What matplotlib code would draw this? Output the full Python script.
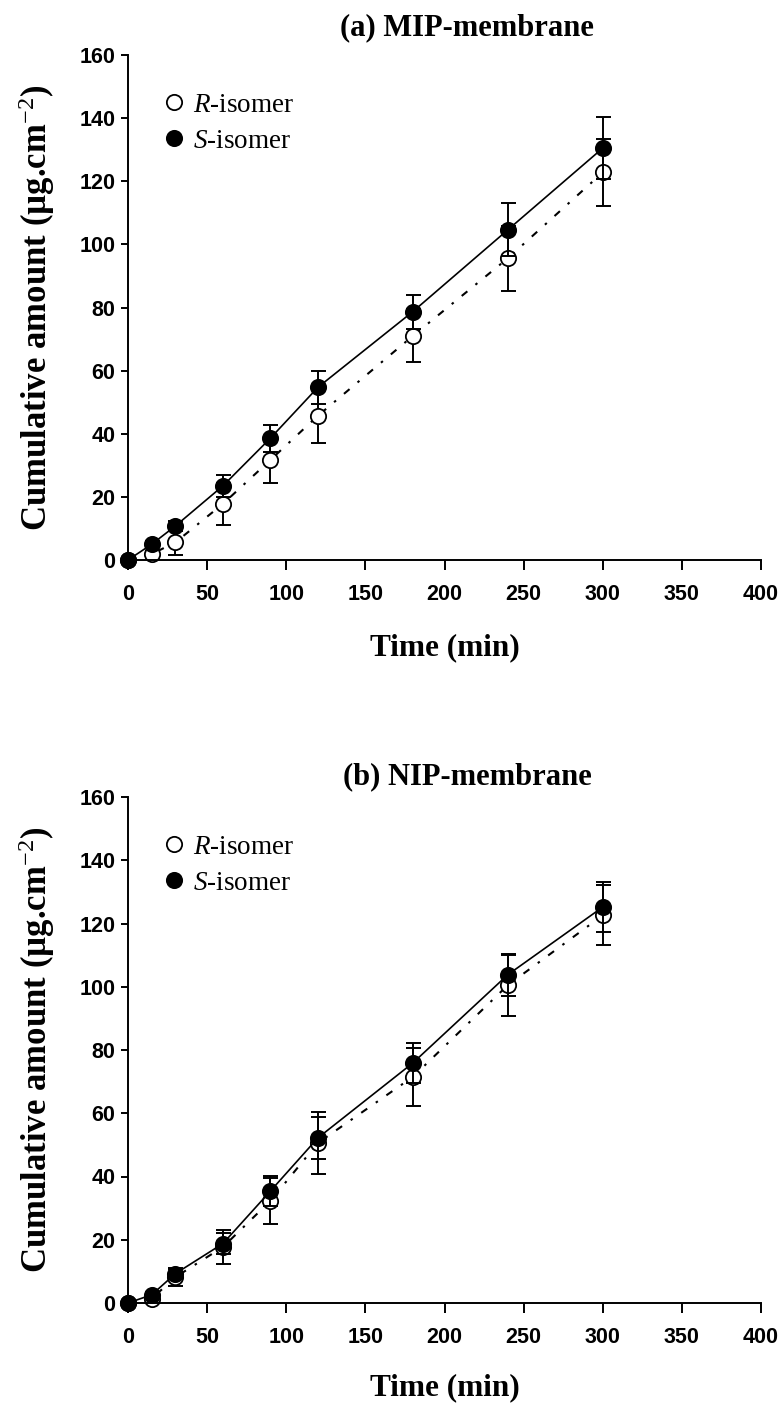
import matplotlib
matplotlib.use("Agg")
import matplotlib.pyplot as plt
from matplotlib.lines import Line2D

plt.rcParams['mathtext.fontset'] = 'custom'
plt.rcParams['mathtext.rm'] = 'Liberation Serif:regular'
plt.rcParams['mathtext.it'] = 'Liberation Serif:italic:regular'
plt.rcParams['mathtext.bf'] = 'Liberation Serif:bold'
plt.rcParams['font.family'] = ['Liberation Sans', 'DejaVu Sans']

# sampling times (min)
time_min = [0, 15, 30, 60, 90, 120, 180, 240, 300]

# (a) MIP-membrane
mip_r = [0, 1.9, 5.6, 17.8, 31.7, 45.7, 71.0, 95.6, 122.8]
mip_r_err = [0, 1.0, 4.0, 6.7, 7.2, 8.5, 8.4, 10.3, 10.5]
mip_s = [0, 5.0, 10.8, 23.5, 38.6, 54.7, 78.7, 104.6, 130.5]
mip_s_err = [0, 1.0, 1.5, 3.5, 4.3, 5.3, 5.4, 8.4, 9.8]

# (b) NIP-membrane
nip_r = [0, 1.4, 8.2, 17.7, 32.3, 50.6, 71.5, 100.5, 122.6]
nip_r_err = [0, 1.0, 2.8, 5.3, 7.2, 9.7, 9.1, 9.6, 9.5]
nip_s = [0, 2.6, 9.3, 18.8, 35.4, 52.2, 75.9, 103.8, 125.2]
nip_s_err = [0, 1.0, 1.5, 3.3, 4.7, 6.6, 6.4, 6.7, 7.9]

x_ticks = list(range(0, 401, 50))
y_ticks = list(range(0, 161, 20))

SERIF = 'Liberation Serif'
R_DASH = (0, (3.5, 5, 1.2, 5))
W, H = 784, 1409


def draw_series(ax, t, vals, errs, filled, z):
    ax.errorbar(t, vals, yerr=errs, fmt='none', ecolor='k', elinewidth=1.4,
                capsize=5.4, capthick=1.4, zorder=z, clip_on=False)
    ax.plot(t, vals, color='k', lw=1.2 if filled else 1.5,
            ls='-' if filled else R_DASH, zorder=z + 0.1, clip_on=False)
    ax.plot(t, vals, ls='none', marker='o', ms=11, mec='k', mew=1.3,
            mfc='k' if filled else 'white', zorder=z + 0.2, clip_on=False)


def style_axes(ax):
    ax.set_xlim(0, 400)
    ax.set_ylim(0, 160)
    ax.set_xticks(x_ticks)
    ax.set_yticks(y_ticks)
    for side in ['top', 'right']:
        ax.spines[side].set_visible(False)
    for side in ['left', 'bottom']:
        ax.spines[side].set_linewidth(1.4)
    ax.tick_params(axis='x', direction='out', length=7, width=1.4, pad=10, labelsize=15.5)
    ax.tick_params(axis='y', direction='out', length=5, width=1.4, pad=4, labelsize=15.5)
    for lbl in ax.get_xticklabels() + ax.get_yticklabels():
        lbl.set_fontweight('bold')
    handles = [Line2D([], [], ls='none', marker='o', ms=11, mec='k', mew=1.3, mfc='white'),
               Line2D([], [], ls='none', marker='o', ms=11, mec='k', mew=1.3, mfc='k')]
    ax.legend(handles, [r'$\mathit{R}$-isomer', r'$\mathit{S}$-isomer'],
              loc='upper left', bbox_to_anchor=(0.056, 0.925), frameon=False,
              borderpad=0, borderaxespad=0, handlelength=0.8, handletextpad=0.3,
              labelspacing=0.4, prop={'family': SERIF, 'weight': 'normal', 'size': 19.5})


fig = plt.figure(figsize=(W / 100, H / 100), dpi=100)

panels = [
    ("(a) MIP-membrane", mip_r, mip_r_err, mip_s, mip_s_err, 55, 560, 28, 648),
    ("(b) NIP-membrane", nip_r, nip_r_err, nip_s, nip_s_err, 797, 1303, 777, 1388),
]

for title, r, r_err, s, s_err, top_px, bot_px, title_px, xlab_px in panels:
    ax = fig.add_axes([128 / W, 1 - bot_px / H, 633 / W, (bot_px - top_px) / H])
    draw_series(ax, time_min, r, r_err, False, 2)
    draw_series(ax, time_min, s, s_err, True, 3)
    style_axes(ax)
    fig.text(467 / W, 1 - title_px / H, title, ha='center', va='center',
             family=SERIF, weight='bold', size=22)
    fig.text(445 / W, 1 - xlab_px / H, "Time (min)", ha='center', va='center',
             family=SERIF, weight='bold', size=22.5)
    fig.text(37 / W, 1 - (top_px + bot_px) / 2 / H,
             "Cumulative amount (\u00b5g.cm$^{\\mathrm{-2}}$)",
             rotation=90, ha='center', va='center', family=SERIF, weight='bold', size=25)

fig.savefig("out.png", dpi=100)
